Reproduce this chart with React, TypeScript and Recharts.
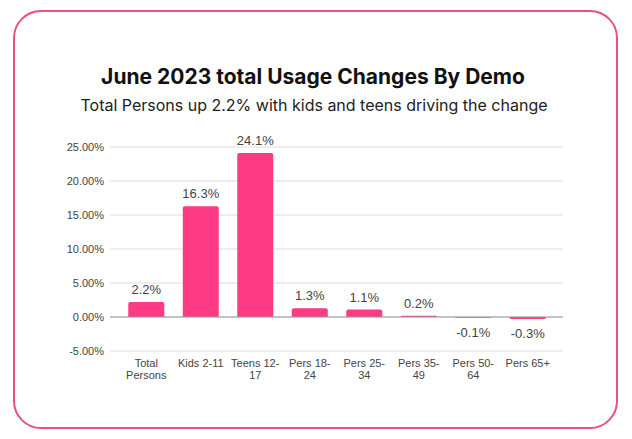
import React from "react";
import { BarChart, Bar, XAxis, YAxis, CartesianGrid, ReferenceLine, LabelList } from "recharts";

const categories = ["Total Persons", "Kids 2-11", "Teens 12-17", "Pers 18-24", "Pers 25-34", "Pers 35-49", "Pers 50-64", "Pers 65+"];
const tickLines = [["Total", "Persons"], ["Kids 2-11"], ["Teens 12-", "17"], ["Pers 18-", "24"], ["Pers 25-", "34"], ["Pers 35-", "49"], ["Pers 50-", "64"], ["Pers 65+"]];
const changes = [2.2, 16.3, 24.1, 1.3, 1.1, 0.2, -0.1, -0.3];
const yTicks = [-5, 0, 5, 10, 15, 20, 25];

const data = categories.map((c, i) => ({ name: c, value: changes[i] }));

const AXIS_FONT = "'Liberation Sans', Arial, sans-serif";

const XTick = (props: any) => {
  const { x, y, index } = props;
  const lines = tickLines[index] || [categories[index]];
  return (
    <g>
      {lines.map((l: string, i: number) => (
        <text key={i} x={x} y={y + 8 + i * 12} textAnchor="middle" fontSize={11} fill="#444" fontFamily={AXIS_FONT}>
          {l}
        </text>
      ))}
    </g>
  );
};

const ValueLabel = (props: any) => {
  const { x, y, width, height, value } = props;
  const top = Math.min(y, y + height);
  const bottom = Math.max(y, y + height);
  const ty = value >= 0 ? top - 8 : bottom + 19;
  return (
    <text x={x + width / 2} y={ty} textAnchor="middle" fontSize={13} fill="#444" fontFamily={AXIS_FONT}>
      {value.toFixed(1)}%
    </text>
  );
};

export default function App() {
  return (
    <div style={{ position: "absolute", left: 0, top: 0, width: 632, height: 439, background: "#fff" }}>
      <div
        style={{
          position: "absolute",
          left: 13,
          top: 10,
          width: 605,
          height: 419,
          border: "2px solid #ea4f80",
          borderRadius: 28,
          boxSizing: "border-box",
        }}
      />
      <div
        style={{
          position: "absolute",
          left: 0,
          width: 626,
          top: 64,
          textAlign: "center",
          fontFamily: "Inter, sans-serif",
          fontWeight: 700,
          fontSize: 21,
          color: "#111",
          lineHeight: "26px",
        }}
      >
        June 2023 total Usage Changes By Demo
      </div>
      <div
        style={{
          position: "absolute",
          left: 0,
          width: 628,
          top: 95,
          textAlign: "center",
          fontFamily: "Inter, sans-serif",
          fontSize: 16,
          color: "#222",
          lineHeight: "20px",
        }}
      >
        Total Persons up 2.2% with kids and teens driving the change
      </div>
      <div style={{ position: "absolute", left: 0, top: 0 }}>
        <BarChart width={632} height={439} data={data} margin={{ top: 147, right: 69, bottom: 58, left: 0 }} barCategoryGap="17%">
          <CartesianGrid vertical={false} stroke="#dddddd" />
          <XAxis
            dataKey="name"
            axisLine={false}
            tickLine={false}
            interval={0}
            height={30}
            padding={{ left: 9, right: 8 }}
            tick={<XTick />}
          />
          <YAxis
            domain={[-5, 25]}
            ticks={yTicks}
            width={110}
            axisLine={false}
            tickLine={false}
            tickSize={6}
            tickMargin={0}
            tickFormatter={(v: number) => `${v.toFixed(2)}%`}
            tick={{ fontSize: 11, fill: "#444", fontFamily: AXIS_FONT }}
          />
          <ReferenceLine y={0} stroke="#999" strokeWidth={1} />
          <Bar dataKey="value" fill="#fd3a84" radius={[2, 2, 0, 0]} isAnimationActive={false}>
            <LabelList dataKey="value" content={<ValueLabel />} />
          </Bar>
        </BarChart>
      </div>
    </div>
  );
}
